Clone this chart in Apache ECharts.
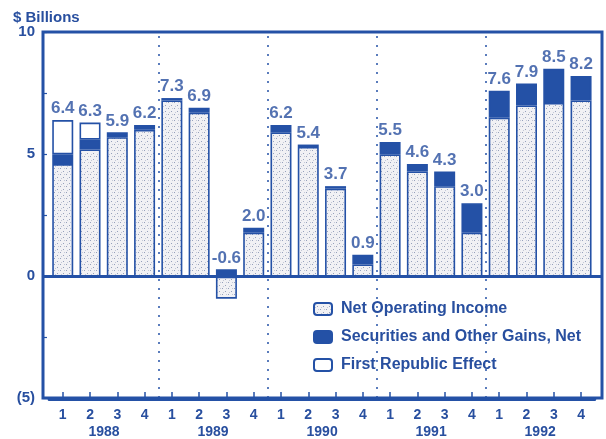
<!DOCTYPE html>
<html>
<head>
<meta charset="utf-8">
<script src="https://cdn.jsdelivr.net/npm/echarts@6/dist/echarts.min.js"></script>
<style>
  html, body { margin: 0; padding: 0; background: #ffffff; }
  #chart { width: 606px; height: 439px; }
</style>
</head>
<body>
<div id="chart"></div>
<script>
// Quarterly earnings, $ billions, 1988-1992
const years = ['1988', '1989', '1990', '1991', '1992'];
const quarters = ['1', '2', '3', '4', '1', '2', '3', '4', '1', '2', '3', '4',
                  '1', '2', '3', '4', '1', '2', '3', '4'];
const netOperatingIncome = [4.6, 5.2, 5.7, 6.0, 7.2, 6.7, -0.9, 1.8, 5.9, 5.3,
                            3.6, 0.5, 5.0, 4.3, 3.7, 1.8, 6.5, 7.0, 7.1, 7.2];
const securitiesGains = [0.4, 0.4, 0.2, 0.2, 0.1, 0.2, 0.3, 0.2, 0.3, 0.1,
                         0.1, 0.4, 0.5, 0.3, 0.6, 1.2, 1.1, 0.9, 1.4, 1.0];
const firstRepublicEffect = [1.4, 0.7, 0, 0, 0, 0, 0, 0, 0, 0,
                             0, 0, 0, 0, 0, 0, 0, 0, 0, 0];
const yTickLabels = { '10': '10', '5': '5', '0': '0', '-5': '(5)' };
const legendNames = ['Net Operating Income', 'Securities and Other Gains, Net', 'First Republic Effect'];

const BLUE = '#2451a6';
const TEXT = '#284f9f';
const FONT = 'Liberation Sans, Arial, sans-serif';

// light dotted fill for the operating-income bars
function stipplePattern() {
  const c = document.createElement('canvas');
  c.width = 6; c.height = 6;
  const g = c.getContext('2d');
  g.fillStyle = '#f1f1f4';
  g.fillRect(0, 0, 6, 6);
  g.fillStyle = '#95a0bb';
  g.fillRect(0, 0, 1, 1);
  g.fillRect(3, 3, 1, 1);
  g.fillStyle = '#c3c8d6';
  g.fillRect(4, 0, 1, 1);
  g.fillRect(1, 4, 1, 1);
  return { image: c, repeat: 'repeat' };
}

const keyCats = quarters.map((q, i) => i);              // one slot per quarter
const noZero = arr => arr.map(v => (v === 0 ? null : v));

// total label sits on the top of the positive part of each stack
const labelPoints = keyCats.map(i => {
  const parts = [netOperatingIncome[i], securitiesGains[i], firstRepublicEffect[i]];
  const top = parts.filter(v => v > 0).reduce((a, b) => a + b, 0);
  const total = parts.reduce((a, b) => a + b, 0);
  return { value: [i, top], total: total };
});

const yearCenters = years.map((_, k) => 1.5 + 4 * k);
const separators = years.slice(1).map((_, k) => 3.5 + 4 * k);

const TOP = 32, BOTTOM = 40;
const TEXT_STYLE = { color: TEXT, fontFamily: FONT, fontWeight: 'bold' };

const chart = echarts.init(document.getElementById('chart'), null, { renderer: 'canvas' });

chart.setOption({
  animation: false,
  backgroundColor: '#ffffff',
  title: {
    text: '$ Billions',
    left: 8, top: 5,
    textStyle: Object.assign({ fontSize: 15 }, TEXT_STYLE)
  },
  grid: [
    // bars, one band per quarter
    { left: 49.1, right: 11.3, top: TOP, bottom: BOTTOM },
    // outer frame, value scale, year captions
    { left: 43, right: 4, top: TOP, bottom: BOTTOM,
      show: true, borderColor: BLUE, borderWidth: 3, backgroundColor: 'transparent' }
  ],
  legend: {
    orient: 'vertical',
    left: 308, top: 296,
    itemWidth: 18, itemHeight: 12, itemGap: 12,
    data: legendNames,
    textStyle: Object.assign({ fontSize: 16, padding: [0, 0, 0, 4] }, TEXT_STYLE)
  },
  xAxis: [
    {
      gridIndex: 0, type: 'category', data: keyCats, boundaryGap: true,
      position: 'bottom',
      axisLine: { show: true, onZero: false, lineStyle: { color: BLUE, width: 3 } },
      splitLine: { show: false },
      axisTick: { show: true, inside: true, length: 7, alignWithLabel: true,
                  lineStyle: { color: BLUE, width: 1.5 } },
      axisLabel: Object.assign({ formatter: (v, i) => quarters[i], margin: 9,
                                 fontSize: 14, interval: 0 }, TEXT_STYLE)
    },
    {
      gridIndex: 1, type: 'value', min: -0.74, max: 19.77,
      position: 'bottom', offset: 18,
      axisLine: { show: false, onZero: false },
      axisTick: { show: false },
      splitLine: { show: false },
      axisLabel: Object.assign({
        customValues: yearCenters,
        formatter: v => years[Math.round((v - 1.5) / 4)] || '',
        margin: 9, fontSize: 14
      }, TEXT_STYLE)
    }
  ],
  yAxis: [
    {
      gridIndex: 0, type: 'value', min: -5, max: 10, interval: 2.5,
      axisLine: { show: false, onZero: false },
      axisTick: { show: false },
      axisLabel: { show: false },
      splitLine: { show: false }
    },
    {
      gridIndex: 1, type: 'value', min: -5, max: 10, interval: 2.5,
      axisLine: { show: false, onZero: false },
      splitLine: { show: false },
      axisTick: { show: true, inside: true, length: 4, lineStyle: { color: BLUE, width: 1.2 } },
      axisLabel: Object.assign({
        formatter: v => yTickLabels[String(v)] || '',
        margin: 8, fontSize: 15
      }, TEXT_STYLE)
    }
  ],
  series: [
    {
      name: legendNames[0],
      type: 'bar', stack: 'q', barWidth: 21, xAxisIndex: 0, yAxisIndex: 0,
      data: noZero(netOperatingIncome),
      itemStyle: { color: stipplePattern(), borderColor: BLUE, borderWidth: 1.6 }
    },
    {
      name: legendNames[1],
      type: 'bar', stack: 'q', barWidth: 21, xAxisIndex: 0, yAxisIndex: 0,
      data: noZero(securitiesGains),
      itemStyle: { color: BLUE, borderColor: BLUE, borderWidth: 1.6 }
    },
    {
      name: legendNames[2],
      type: 'bar', stack: 'q', barWidth: 21, xAxisIndex: 0, yAxisIndex: 0,
      data: noZero(firstRepublicEffect),
      itemStyle: { color: '#ffffff', borderColor: BLUE, borderWidth: 1.6 }
    },
    {
      type: 'scatter', xAxisIndex: 0, yAxisIndex: 0,
      symbolSize: 0, silent: true,
      data: labelPoints,
      label: Object.assign({
        show: true, position: 'top', distance: 3,
        formatter: p => p.data.total.toFixed(1),
        fontSize: 17
      }, TEXT_STYLE)
    },
    {
      // year separators and the zero baseline across the full frame
      type: 'scatter', xAxisIndex: 1, yAxisIndex: 1,
      symbolSize: 0, silent: true, data: [],
      markLine: {
        silent: true, symbol: 'none', label: { show: false },
        data: separators.map(x => ({
          xAxis: x, lineStyle: { color: BLUE, width: 1.5, type: [2, 7] }
        })).concat([
          { yAxis: 0, lineStyle: { color: BLUE, width: 3, type: 'solid' } }
        ])
      }
    }
  ]
});
</script>
</body>
</html>
